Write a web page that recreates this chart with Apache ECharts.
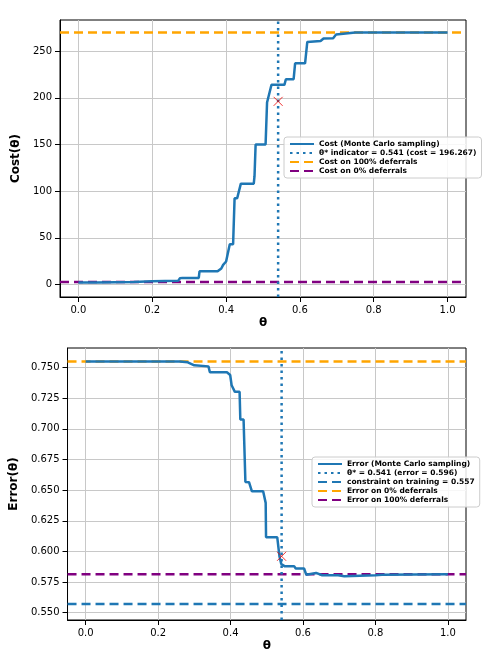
<!DOCTYPE html><html><head><meta charset="utf-8"><script src="https://cdn.jsdelivr.net/npm/echarts@6/dist/echarts.min.js"></script></head><body style="margin:0"><div id="c" style="width:484px;height:666px"></div><script>
const costTheta=[0,0.05,0.1,0.15,0.2,0.27,0.275,0.282,0.326,0.328,0.377,0.387,0.392,0.4,0.405,0.41,0.419,0.423,0.43,0.44,0.475,0.477,0.48,0.507,0.511,0.523,0.558,0.562,0.583,0.587,0.614,0.62,0.656,0.664,0.69,0.698,0.75,1.0];
const costVal=[2,2,2.3,2.6,3.5,3.8,6.5,7,7,14,14,17,21,24.6,24.6,43,43,92.4,92.4,108,108,116,150,150,195,214,214,220,220,237,237,260,261,263.6,264,268,270,270];
const errTheta=[0,0.1,0.2,0.26,0.282,0.3,0.339,0.343,0.39,0.399,0.403,0.412,0.425,0.427,0.436,0.441,0.451,0.459,0.49,0.497,0.498,0.529,0.535,0.54,0.55,0.576,0.58,0.603,0.609,0.636,0.653,0.697,0.714,0.8,0.818,1.0];
const errVal=[0.755,0.755,0.755,0.755,0.7543,0.7519,0.751,0.7462,0.7462,0.744,0.7356,0.7302,0.7302,0.7076,0.7076,0.6567,0.6565,0.649,0.649,0.6396,0.6115,0.6115,0.596,0.5897,0.5878,0.5878,0.586,0.586,0.581,0.5824,0.5805,0.5805,0.5797,0.5805,0.581,0.5813];
const xTicks=[0,0.2,0.4,0.6,0.8,1.0];
const costTicks=[0,50,100,150,200,250];
const errTicks=[0.55,0.575,0.6,0.625,0.65,0.675,0.7,0.725,0.75];
const thetaStar=0.541, costStar=196.267, errStar=0.596;
const cost100=270, cost0=2.5, err0=0.755, err100=0.5813, constraint=0.557;
const blue='#1f77b4',orange='#ffa500',purple='#800080';
const xs=[-0.05,1.05];
const F='DejaVu Sans';
function xAx(i){return {type:'value',gridIndex:i,min:-0.05,max:1.05,name:'θ',nameLocation:'middle',nameGap:20,nameTextStyle:{fontFamily:F,fontWeight:'bold',fontSize:12,color:'#000'},
 axisLine:{onZero:false,lineStyle:{color:'#000'}},axisTick:{show:true,customValues:xTicks,lineStyle:{color:'#000'}},axisLabel:{customValues:xTicks,formatter:v=>v.toFixed(1),fontFamily:F,fontSize:10,color:'#000'},splitLine:{show:true,lineStyle:{color:'#c8c8c8'}}};}
function yAx(i,min,max,ticks,name,fmt,gap){return {type:'value',gridIndex:i,min,max,name,nameLocation:'middle',nameGap:gap,nameTextStyle:{fontFamily:F,fontWeight:'bold',fontSize:12,color:'#000'},
 axisLine:{show:true,onZero:false,lineStyle:{color:'#000'}},axisTick:{show:true,customValues:ticks,lineStyle:{color:'#000'}},axisLabel:{customValues:ticks,formatter:fmt,fontFamily:F,fontSize:10,color:'#000'},splitLine:{show:true,lineStyle:{color:'#c8c8c8'}}};}
function hline(name,y,color,i,type){return {name,type:'line',xAxisIndex:i,yAxisIndex:i,data:xs.map(x=>[x,y]),symbol:'none',lineStyle:{color,width:2.5,type:type||[9,5]},itemStyle:{color},z:1};}
function vline(name,i,lo,hi){return {name,type:'line',xAxisIndex:i,yAxisIndex:i,data:[[thetaStar,lo],[thetaStar,hi]],symbol:'none',lineStyle:{color:blue,width:2.5,type:[2.5,4]},itemStyle:{color:blue},z:3};}
const X='path://M0,0L10,10M10,0L0,10';
const lg={orient:'vertical',itemGap:1,itemWidth:24,itemHeight:8,padding:[3,5],backgroundColor:'rgba(255,255,255,0.85)',borderColor:'#ccc',borderWidth:1,borderRadius:3,itemStyle:{opacity:0},textStyle:{fontFamily:F,fontWeight:'bold',fontSize:7.5,color:'#000'}};
const opt={animation:false,
grid:[{left:60,right:18,top:20,height:277,show:true,borderColor:'#000',borderWidth:1},{left:60,right:18,top:348,height:272,show:true,borderColor:'#000',borderWidth:1}],
xAxis:[xAx(0),xAx(1)],
yAxis:[yAx(0,-13.5,283.5,costTicks,'Cost(θ)',v=>String(v),32),yAx(1,0.544,0.766,errTicks,'Error(θ)',v=>v.toFixed(3),42)],
legend:[
Object.assign({left:284,top:137,data:['Cost (Monte Carlo sampling)','θ* indicator = 0.541 (cost = 196.267)','Cost on 100% deferrals','Cost on 0% deferrals']},lg),
Object.assign({left:312,top:457,data:['Error (Monte Carlo sampling)','θ* = 0.541 (error = 0.596)','constraint on training = 0.557','Error on 0% deferrals','Error on 100% deferrals']},lg)],
series:[
{name:'Cost (Monte Carlo sampling)',type:'line',xAxisIndex:0,yAxisIndex:0,data:costTheta.map((t,k)=>[t,costVal[k]]),symbol:'none',lineStyle:{color:blue,width:2.5},itemStyle:{color:blue},z:2},
vline('θ* indicator = 0.541 (cost = 196.267)',0,-13.5,283.5),
hline('Cost on 100% deferrals',cost100,orange,0),
hline('Cost on 0% deferrals',cost0,purple,0),
{type:'scatter',xAxisIndex:0,yAxisIndex:0,data:[[thetaStar,costStar]],symbol:X,symbolSize:9,itemStyle:{color:'none',borderColor:'#e00',borderWidth:1},z:5},
{name:'Error (Monte Carlo sampling)',type:'line',xAxisIndex:1,yAxisIndex:1,data:errTheta.map((t,k)=>[t,errVal[k]]),symbol:'none',lineStyle:{color:blue,width:2.5},itemStyle:{color:blue},z:2},
vline('θ* = 0.541 (error = 0.596)',1,0.544,0.766),
hline('constraint on training = 0.557',constraint,blue,1),
hline('Error on 0% deferrals',err0,orange,1),
hline('Error on 100% deferrals',err100,purple,1),
{type:'scatter',xAxisIndex:1,yAxisIndex:1,data:[[thetaStar,errStar]],symbol:X,symbolSize:9,itemStyle:{color:'none',borderColor:'#e00',borderWidth:1},z:5}
]};
echarts.init(document.getElementById('c')).setOption(opt);
</script></body></html>
